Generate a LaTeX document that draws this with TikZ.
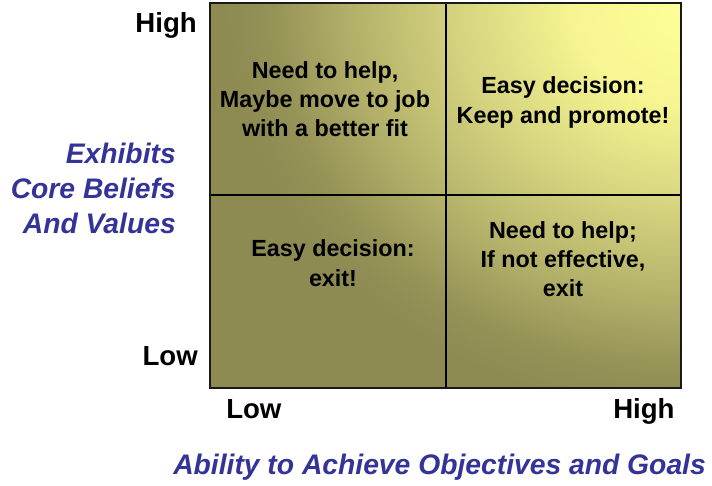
\documentclass[tikz,border=0pt]{standalone}
\usepackage{fontspec}
\setmainfont{Liberation Sans}
\usetikzlibrary{calc}

% colours of the matrix glow, from the bright corner outwards
\definecolor{glowA}{RGB}{255,255,153}
\definecolor{glowB}{RGB}{246,245,145}
\definecolor{glowC}{RGB}{212,210,126}
\definecolor{glowD}{RGB}{182,180,107}
\definecolor{glowE}{RGB}{150,147,88}
\definecolor{glowF}{RGB}{141,138,82}
\definecolor{axisblue}{RGB}{51,51,153}

\pgfdeclareradialshading{quadglow}{\pgfpoint{0bp}{0bp}}{%
  color(0bp)=(glowA); color(6.4bp)=(glowB); color(12.8bp)=(glowC);
  color(17.6bp)=(glowD); color(22.3bp)=(glowE); color(25bp)=(glowF);
  color(50bp)=(glowF)}

\tikzset{
  cell/.style={align=center, inner sep=0pt, font=\bfseries\fontsize{17.5}{22}\selectfont},
  level/.style={inner sep=0pt, font=\bfseries\fontsize{20.7}{24}\selectfont},
  axis/.style={inner sep=0pt, text=axisblue, font=\bfseries\itshape\fontsize{21.2}{26.3}\selectfont},
  frame/.style={draw=black!90, line width=1.6pt},
  divider/.style={draw=black, line width=0.8pt}
}

\begin{document}
\begin{tikzpicture}[x=0.75pt,y=-0.75pt]
  \useasboundingbox (0,0) rectangle (712,485);

  % corners and midpoints of the matrix
  \coordinate (tl) at (210,3);
  \coordinate (br) at (681,388);
  \coordinate (mt) at (446,3);
  \coordinate (mb) at (446,388);
  \coordinate (ml) at (210,195);
  \coordinate (mr) at (681,195);

  % shaded background: olive base with a yellow glow from the upper right
  \begin{scope}
    \clip (tl) rectangle (br);
    \fill[glowF] (tl) rectangle (br);
    \shade[shading=quadglow] (692,2) ellipse (470 and 410);
  \end{scope}

  % grid lines
  \draw[divider] (mt) -- (mb);
  \draw[divider] (ml) -- (mr);
  \draw[frame] (tl) rectangle (br);

  % quadrant texts
  \node[cell] (q1) at (325,99) {Need to help,\\Maybe move to job\\with a better fit};
  \node[cell] (q2) at (563,102.5) {Easy decision:\\Keep and promote!};
  \node[cell] (q3) at (333,263) {Easy decision:\\exit!};
  \node[cell] (q4) at (563,259) {Need to help;\\If not effective,\\exit};

  % level markers
  \node[level, anchor=base east] (yhigh) at (197,33) {High};
  \node[level, anchor=base east] (ylow) at (198,365) {Low};
  \node[level, anchor=base west] (xlow) at (226,418) {Low};
  \node[level, anchor=base west] (xhigh) at (613,418) {High};

  % axis titles
  \node[axis, align=right, anchor=east] (ytitle) at (176,188) {Exhibits\\Core Beliefs\\And Values};
  \node[axis, anchor=base west] (xtitle) at (173,474) {Ability to Achieve Objectives and Goals};
\end{tikzpicture}
\end{document}
